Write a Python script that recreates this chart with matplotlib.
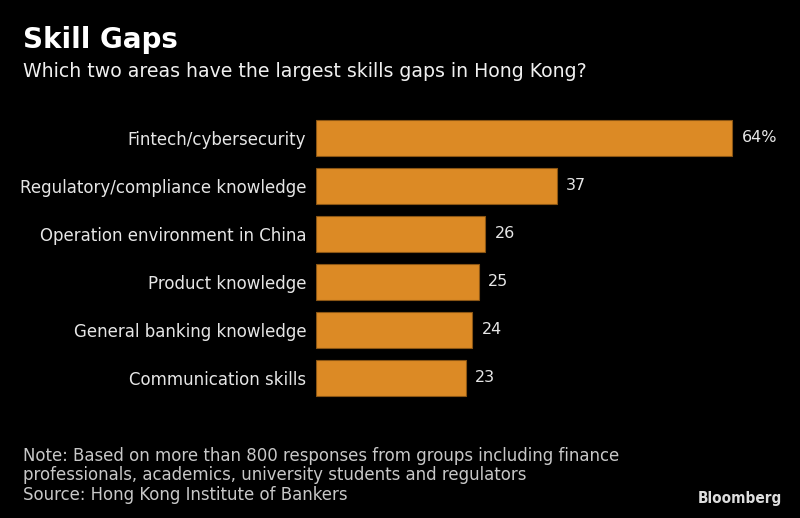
import matplotlib.pyplot as plt

categories = ["Fintech/cybersecurity", "Regulatory/compliance knowledge",
              "Operation environment in China", "Product knowledge",
              "General banking knowledge", "Communication skills"]
values = [64, 37, 26, 25, 24, 23]
value_labels = ["64%", "37", "26", "25", "24", "23"]

W, H = 800, 518
fig = plt.figure(figsize=(W/100, H/100), dpi=100, facecolor="black")

# axes: bars start at x=316px, 6.5px per unit
ax = fig.add_axes([316/W, 1-402/H, 468/W, 288/H])
ax.set_facecolor("black")
ypos = list(range(len(categories)))
ax.barh(ypos, values, height=0.77, color="#DC8A25", edgecolor="#8a5514", linewidth=0.8)
ax.set_xlim(0, 72)
ax.set_ylim(len(categories)-0.5, -0.5)
for s in ax.spines.values():
    s.set_visible(False)
ax.set_xticks([])
ax.set_yticks(ypos)
ax.set_yticklabels(categories, color="#e6e6e6", fontsize=12)
ax.tick_params(axis="y", length=0, pad=7)
for y, v, lab in zip(ypos, values, value_labels):
    ax.text(v + 1.5, y, lab, color="#e6e6e6", fontsize=11.5, va="center", ha="left")

fig.text(23/W, 1-40/H, "Skill Gaps", color="white", fontsize=20, fontweight="bold", va="center")
fig.text(23/W, 1-72/H, "Which two areas have the largest skills gaps in Hong Kong?",
         color="#f0f0f0", fontsize=13.6, va="center")

note = ("Note: Based on more than 800 responses from groups including finance\n"
        "professionals, academics, university students and regulators\n"
        "Source: Hong Kong Institute of Bankers")
fig.text(23/W, 1-447/H, note, color="#c8c8c8", fontsize=13.2, va="top", linespacing=1.1,
         family="DejaVu Sans", fontstretch="condensed")
fig.text(782/W, 1-498/H, "Bloomberg", color="#dddddd", fontsize=11, fontweight="bold",
         ha="right", va="center", fontstretch="condensed")

fig.savefig("out.png", dpi=100, facecolor="black")
